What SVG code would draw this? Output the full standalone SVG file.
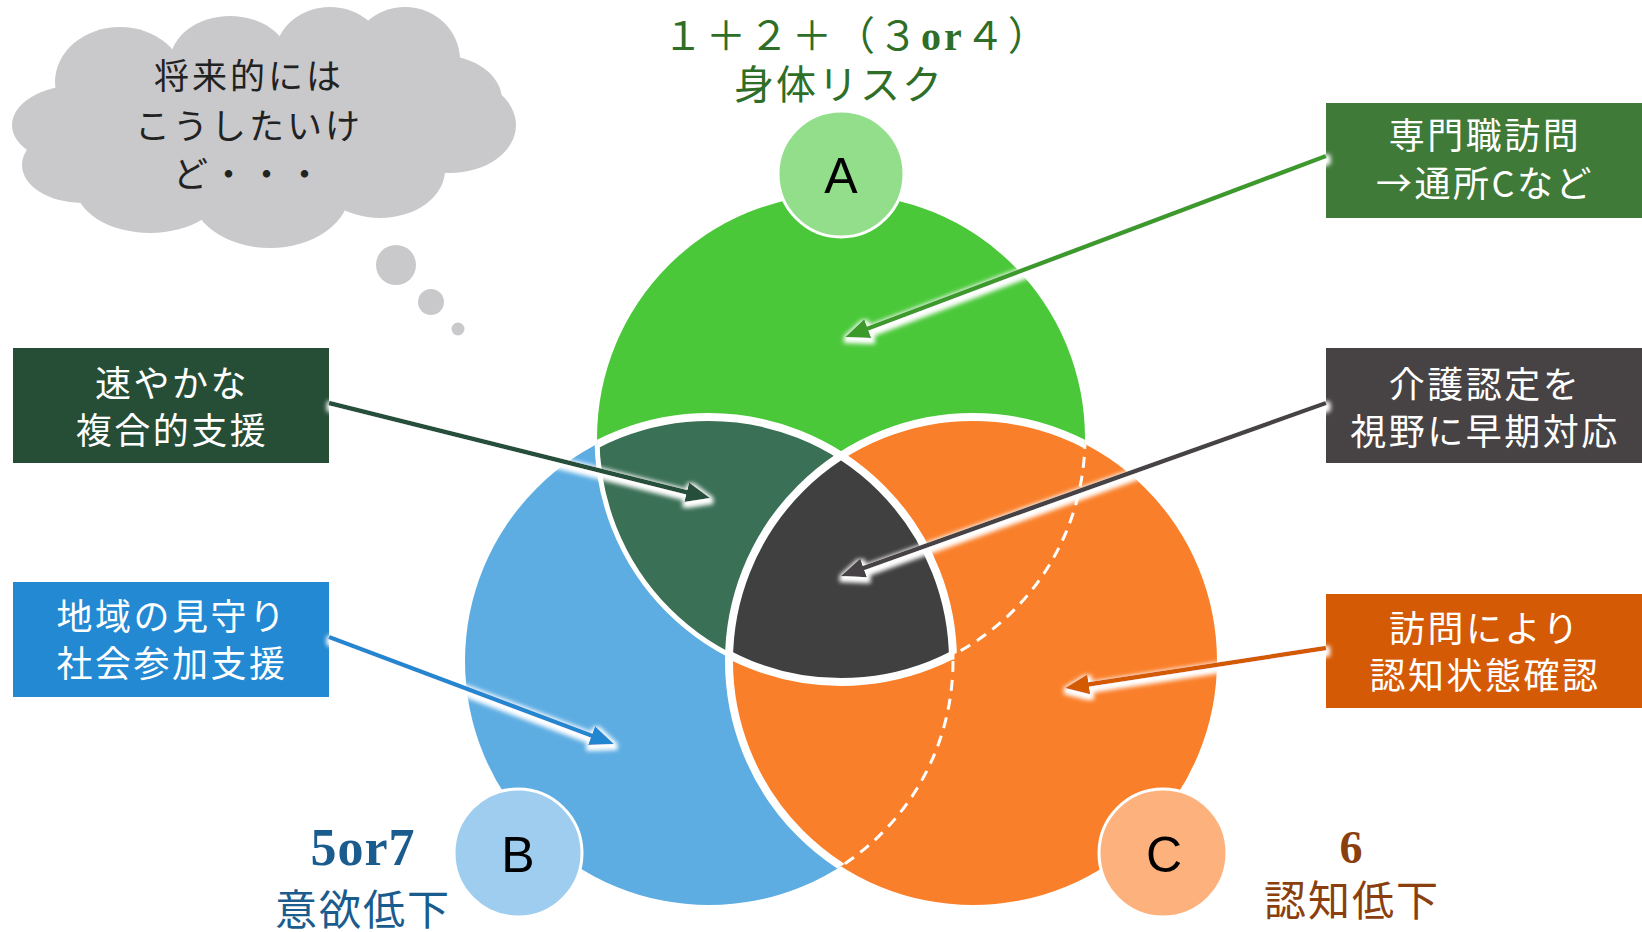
<svg xmlns="http://www.w3.org/2000/svg" width="1642" height="932" viewBox="0 0 1642 932">
<style>
.bt{fill:#ffffff;font-family:"Noto Sans CJK JP","Noto Sans",sans-serif;font-size:36px;text-anchor:middle;letter-spacing:2.5px}
.ct{fill:#222222;font-family:"Noto Sans CJK JP","Noto Sans",sans-serif;font-size:35px;text-anchor:middle;letter-spacing:3px}
.lt{fill:#000000;font-family:"Liberation Sans",Arial,sans-serif;font-size:50px;text-anchor:middle}
.jt{font-family:"Liberation Serif","Noto Sans CJK JP",serif;text-anchor:middle}
.wo{fill:none;stroke:#ffffff}
.dash{fill:none;stroke:#ffffff;stroke-width:3;stroke-dasharray:11 8}
.arr{fill:none;stroke-width:4.5}
</style>
<defs>
<clipPath id="cA"><circle cx="841" cy="438" r="244"/></clipPath>
<clipPath id="cB"><circle cx="709" cy="661" r="244"/></clipPath>
<clipPath id="cC"><circle cx="973" cy="661" r="244"/></clipPath>
<clipPath id="cAB"><circle cx="841" cy="438" r="244"/><circle cx="709" cy="661" r="244"/></clipPath>
<filter id="glow" filterUnits="userSpaceOnUse" x="0" y="0" width="1642" height="932">
<feMorphology in="SourceAlpha" operator="dilate" radius="3" result="d"/>
<feGaussianBlur in="d" stdDeviation="2.2" result="b"/>
<feOffset in="b" dx="1" dy="3" result="o"/>
<feFlood flood-color="#ffffff"/>
<feComposite in2="o" operator="in" result="s"/>
<feMerge><feMergeNode in="s"/><feMergeNode in="SourceGraphic"/></feMerge>
</filter>
<marker id="mG" markerUnits="userSpaceOnUse" markerWidth="24" markerHeight="20" refX="4" refY="10" orient="auto"><path d="M0,0 L24,10 L0,20 z" fill="#3a9a2c"/></marker>
<marker id="mD" markerUnits="userSpaceOnUse" markerWidth="24" markerHeight="20" refX="4" refY="10" orient="auto"><path d="M0,0 L24,10 L0,20 z" fill="#25503a"/></marker>
<marker id="mB" markerUnits="userSpaceOnUse" markerWidth="24" markerHeight="20" refX="4" refY="10" orient="auto"><path d="M0,0 L24,10 L0,20 z" fill="#2286d0"/></marker>
<marker id="mK" markerUnits="userSpaceOnUse" markerWidth="24" markerHeight="20" refX="4" refY="10" orient="auto"><path d="M0,0 L24,10 L0,20 z" fill="#464344"/></marker>
<marker id="mO" markerUnits="userSpaceOnUse" markerWidth="24" markerHeight="20" refX="4" refY="10" orient="auto"><path d="M0,0 L24,10 L0,20 z" fill="#d45a06"/></marker>
</defs>
<rect width="1642" height="932" fill="#ffffff"/>

<g id="thought-cloud" fill="#c9c8ca">
<ellipse cx="265" cy="128" rx="200" ry="85"/>
<ellipse cx="120" cy="82" rx="65" ry="55"/>
<ellipse cx="230" cy="62" rx="60" ry="46"/>
<ellipse cx="330" cy="56" rx="55" ry="49"/>
<ellipse cx="405" cy="60" rx="55" ry="53"/>
<ellipse cx="440" cy="100" rx="62" ry="45"/>
<ellipse cx="450" cy="125" rx="66" ry="48"/>
<ellipse cx="380" cy="170" rx="65" ry="48"/>
<ellipse cx="270" cy="190" rx="80" ry="58"/>
<ellipse cx="150" cy="185" rx="75" ry="48"/>
<ellipse cx="82" cy="165" rx="60" ry="38"/>
<ellipse cx="80" cy="125" rx="68" ry="40"/>
<circle cx="396" cy="265" r="20"/>
<circle cx="431" cy="302" r="13"/>
<circle cx="458" cy="329" r="6.5"/>
<text class="ct" x="249" y="89">将来的には</text>
<text class="ct" x="249" y="139">こうしたいけ</text>
<text class="ct" x="249" y="187">ど・・・</text>
</g>

<g id="venn">
<circle cx="709" cy="661" r="244" fill="#5dade3"/>
<circle cx="841" cy="438" r="244" fill="#4bc83a"/>
<g clip-path="url(#cB)"><circle cx="841" cy="438" r="244" fill="#3a7055"/></g>
<circle cx="973" cy="661" r="244" fill="#fa7f2a"/>
<g clip-path="url(#cB)"><g clip-path="url(#cC)"><circle cx="841" cy="438" r="244" fill="#404040"/></g></g>
<g clip-path="url(#cC)"><circle class="dash" cx="841" cy="438" r="244"/><circle class="dash" cx="709" cy="661" r="244"/></g>
<g clip-path="url(#cA)"><circle class="wo" stroke-width="8" cx="709" cy="661" r="244"/></g>
<g clip-path="url(#cB)"><circle class="wo" stroke-width="5" cx="841" cy="438" r="244"/></g>
<g clip-path="url(#cB)"><g clip-path="url(#cC)"><circle class="wo" stroke-width="8" cx="841" cy="438" r="244"/></g></g>
<g clip-path="url(#cAB)"><circle class="wo" stroke-width="8" cx="973" cy="661" r="244"/></g>
</g>

<g id="node-A">
<circle cx="841" cy="174" r="63" fill="#93de8a" stroke="#ffffff" stroke-width="3"/>
<text class="lt" x="841" y="193">A</text>
</g>
<g id="node-B">
<circle cx="518" cy="853" r="64" fill="#9ecdef" stroke="#ffffff" stroke-width="3"/>
<text class="lt" x="518" y="872">B</text>
</g>
<g id="node-C">
<circle cx="1163" cy="853" r="64" fill="#fdb27e" stroke="#ffffff" stroke-width="3"/>
<text class="lt" x="1164" y="872">C</text>
</g>

<g id="label-A" fill="#2e6e26">
<text class="jt" x="857" y="50" font-size="40" letter-spacing="3">１＋２＋（３<tspan font-weight="bold">or</tspan>４）</text>
<text class="jt" x="839" y="99" font-size="40" letter-spacing="2">身体リスク</text>
</g>
<g id="label-B" fill="#1b5c8e">
<text class="jt" x="363" y="865" font-size="52" font-weight="bold" letter-spacing="1">5or7</text>
<text class="jt" x="363" y="925" font-size="42" letter-spacing="2">意欲低下</text>
</g>
<g id="label-C" fill="#8b3f0e">
<text class="jt" x="1351" y="863" font-size="46" font-weight="bold">6</text>
<text class="jt" x="1352" y="916" font-size="42" letter-spacing="2">認知低下</text>
</g>

<g id="box-senmon">
<rect x="1326" y="103" width="316" height="115" fill="#3f7a38"/>
<text class="bt" x="1485" y="149">専門職訪問</text>
<text class="bt" x="1485" y="197">→通所Cなど</text>
</g>
<g id="box-sumiyaka">
<rect x="13" y="348" width="316" height="115" fill="#264e37"/>
<text class="bt" x="172" y="397">速やかな</text>
<text class="bt" x="172" y="444">複合的支援</text>
</g>
<g id="box-chiiki">
<rect x="13" y="582" width="316" height="115" fill="#2289d2"/>
<text class="bt" x="172" y="630">地域の見守り</text>
<text class="bt" x="172" y="677">社会参加支援</text>
</g>
<g id="box-kaigo">
<rect x="1326" y="348" width="316" height="115" fill="#474344"/>
<text class="bt" x="1485" y="398">介護認定を</text>
<text class="bt" x="1485" y="445">視野に早期対応</text>
</g>
<g id="box-houmon">
<rect x="1326" y="594" width="316" height="114" fill="#d55a05"/>
<text class="bt" x="1485" y="642">訪問により</text>
<text class="bt" x="1485" y="689">認知状態確認</text>
</g>

<g id="connectors" filter="url(#glow)">
<line class="arr" x1="1326" y1="156" x2="864" y2="330" stroke="#3a9a2c" marker-end="url(#mG)"/>
<line class="arr" x1="329" y1="403" x2="690.6" y2="493.2" stroke="#25503a" marker-end="url(#mD)"/>
<line class="arr" x1="329" y1="637" x2="595.3" y2="737" stroke="#2286d0" marker-end="url(#mB)"/>
<line class="arr" x1="1326" y1="403" x2="859.8" y2="569.3" stroke="#464344" marker-end="url(#mK)"/>
<line class="arr" x1="1326" y1="648" x2="1084.8" y2="685" stroke="#d45a06" marker-end="url(#mO)"/>
</g>
</svg>
